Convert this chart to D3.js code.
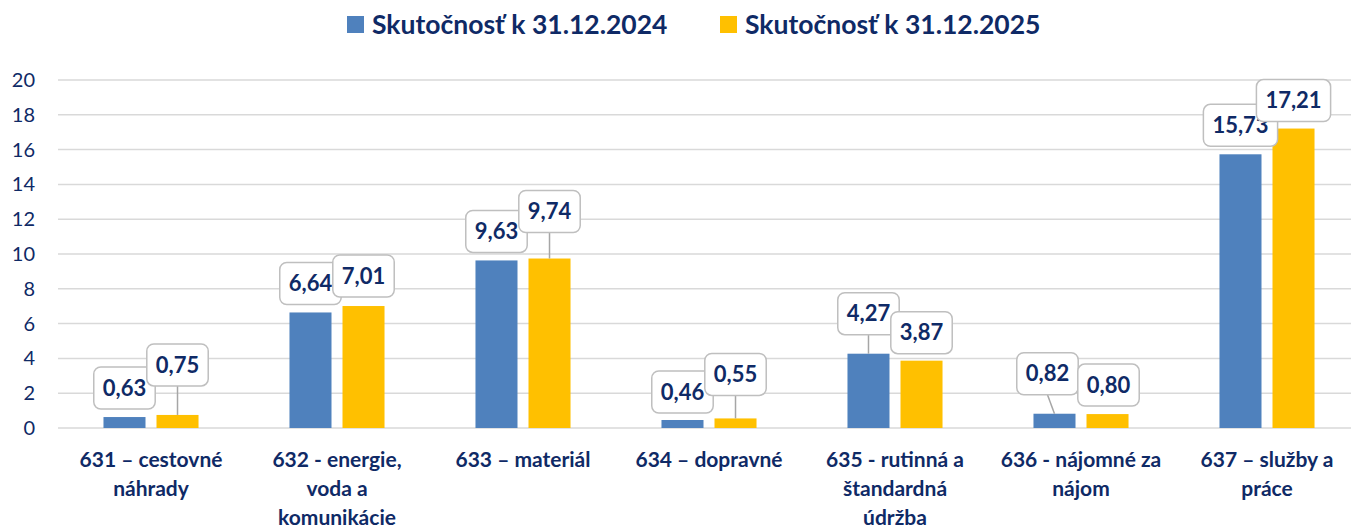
<!DOCTYPE html>
<html>
<head>
<meta charset="utf-8">
<script src="https://cdn.jsdelivr.net/npm/d3@7"></script>
<style>
  body { margin: 0; background: #fff; }
  svg { display: block; font-family: Lato, "Open Sans", sans-serif; }
</style>
</head>
<body>
<div id="chart"></div>
<script>
var W = 1351, H = 526;

// data
var categories = ["631 – cestovné\nnáhrady", "632 - energie,\nvoda a\nkomunikácie", "633 – materiál",
  "634 – dopravné", "635 - rutinná a\nštandardná\núdržba", "636 - nájomné za\nnájom", "637 – služby a\npráce"];
var seriesNames = ["Skutočnosť k 31.12.2024", "Skutočnosť k 31.12.2025"];
var values2024 = [0.63, 6.64, 9.63, 0.46, 4.27, 0.82, 15.73];
var values2025 = [0.75, 7.01, 9.74, 0.55, 3.87, 0.80, 17.21];
var yTicks = [0, 2, 4, 6, 8, 10, 12, 14, 16, 18, 20];

// label placement (px): gap between box bottom and bar top, horizontal shift
var labelGap = [[8, 8, 8, 7, 19, 19, 8], [29, 9, 26, 23, 7, 8, 7]];
var labelDx = [[0, 0, 0, 0, 0, -7, 0], [0, 0, 0, 0, 0, 1, 0]];

var colors = ["#4f81bd", "#ffc000"];
var navy = "#0f2a66";

var series = [values2024, values2025];

var svg = d3.select("#chart").append("svg")
  .attr("width", W)
  .attr("height", H);

var y = d3.scaleLinear().domain([0, 20]).range([428, 80]);

var x0 = d3.scaleBand()
  .domain(d3.range(categories.length))
  .range([58, 1360])
  .paddingInner(0.489)
  .paddingOuter(0.2445);

var x1 = d3.scaleBand()
  .domain(d3.range(series.length))
  .range([0, x0.bandwidth()])
  .paddingInner(0.2075);

// gridlines
svg.append("g")
  .selectAll("line")
  .data(yTicks)
  .enter()
  .append("line")
  .attr("x1", 58)
  .attr("x2", W)
  .attr("y1", function(d){ return y(d); })
  .attr("y2", function(d){ return y(d); })
  .attr("stroke", "#d9d9d9")
  .attr("stroke-width", 1.5);

// y tick labels
svg.append("g")
  .selectAll("text")
  .data(yTicks)
  .enter()
  .append("text")
  .attr("x", 35)
  .attr("y", function(d){ return y(d); })
  .attr("dy", "0.35em")
  .attr("text-anchor", "end")
  .attr("font-size", "20px")
  .attr("fill", navy)
  .text(function(d){ return d; });

// bars
series.forEach(function(vals, s){
  svg.append("g")
    .selectAll("rect")
    .data(vals)
    .enter()
    .append("rect")
    .attr("x", function(d, i){ return x0(i) + x1(s); })
    .attr("y", function(d){ return y(d); })
    .attr("width", x1.bandwidth())
    .attr("height", function(d){ return y(0) - y(d); })
    .attr("fill", colors[s]);
});

// data label callouts
var fmt = function(v){ return d3.format(".2f")(v).replace(".", ","); };
series.forEach(function(vals, s){
  vals.forEach(function(v, i){
    var bx = x0(i) + x1(s) + x1.bandwidth() / 2;
    var top = y(v);
    var cx = bx + labelDx[s][i];
    var bottom = top - labelGap[s][i];
    var g = svg.append("g");
    if (labelGap[s][i] > 12) {
      g.append("line")
        .attr("x1", cx).attr("y1", bottom)
        .attr("x2", bx).attr("y2", top)
        .attr("stroke", "#a6a6a6")
        .attr("stroke-width", 1.5);
    }
    var rect = g.append("rect");
    var t = g.append("text")
      .attr("x", cx)
      .attr("y", bottom - 21)
      .attr("dy", "0.35em")
      .attr("text-anchor", "middle")
      .attr("font-size", "22px")
      .attr("font-weight", "bold")
      .attr("fill", navy)
      .text(fmt(v));
    var tw = t.node().getComputedTextLength();
    var bw = tw + 18;
    rect.attr("x", cx - bw / 2)
      .attr("y", bottom - 42)
      .attr("width", bw)
      .attr("height", 42)
      .attr("rx", 7)
      .attr("fill", "#fff")
      .attr("stroke", "#bfbfbf")
      .attr("stroke-width", 1.5);
  });
});

// category labels
svg.append("g")
  .selectAll("text")
  .data(categories)
  .enter()
  .append("text")
  .attr("text-anchor", "middle")
  .attr("font-size", "21px")
  .attr("font-weight", "bold")
  .attr("fill", navy)
  .each(function(d, i){
    var el = d3.select(this);
    d.split("\n").forEach(function(line, k){
      el.append("tspan")
        .attr("x", x0(i) + x0.bandwidth() / 2)
        .attr("y", 460 + k * 29)
        .attr("dy", "0.35em")
        .text(line);
    });
  });

// legend
var legendX = [347, 720];
var legend = svg.append("g");
legend.selectAll("rect")
  .data(seriesNames)
  .enter()
  .append("rect")
  .attr("x", function(d, i){ return legendX[i]; })
  .attr("y", 16)
  .attr("width", 17)
  .attr("height", 17)
  .attr("fill", function(d, i){ return colors[i]; });
legend.selectAll("text")
  .data(seriesNames)
  .enter()
  .append("text")
  .attr("x", function(d, i){ return legendX[i] + 25; })
  .attr("y", 25)
  .attr("dy", "0.35em")
  .attr("font-size", "26.5px")
  .attr("font-weight", "bold")
  .attr("fill", navy)
  .text(function(d){ return d; });
</script>
</body>
</html>
